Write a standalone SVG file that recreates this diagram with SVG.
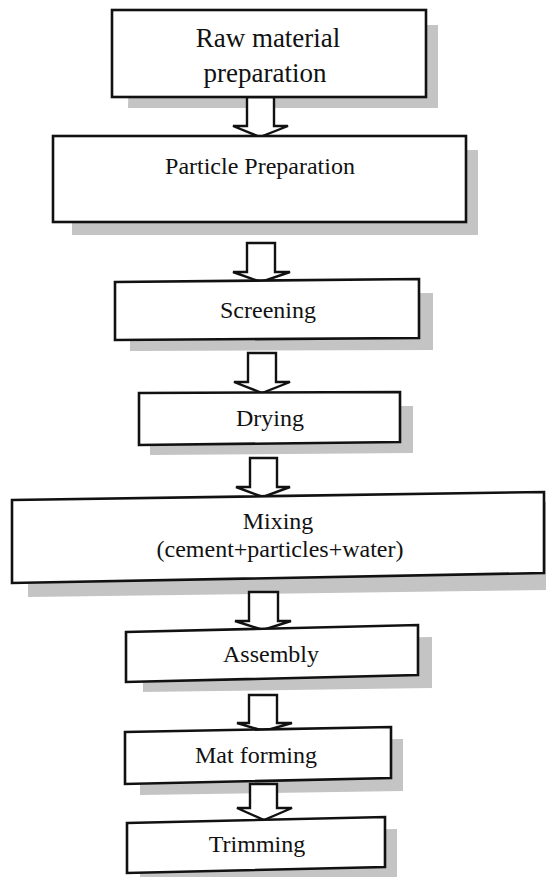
<svg xmlns="http://www.w3.org/2000/svg" width="546" height="877" viewBox="0 0 546 877">
<style>
.bg{fill:#ffffff}
.shadow{fill:#c4c4c4}
.box{fill:#ffffff;stroke:#111111;stroke-width:2.6;stroke-linejoin:miter}
.arrow{fill:#ffffff;stroke:#111111;stroke-width:2.4;stroke-linejoin:miter}
.t{font-family:"Liberation Serif","Times New Roman",serif;font-size:24px;fill:#111111;text-anchor:middle}
.t1{font-size:27px}
</style>
<rect class="bg" x="0" y="0" width="546" height="877"/>
<g id="shadows">
<polygon class="shadow" points="130,25 438,25 438,108 128,108"/>
<polygon class="shadow" points="72,150 478,150 478,235 72,235"/>
<polygon class="shadow" points="130,295 433,293 433,350 130,351"/>
<polygon class="shadow" points="150,407 413,406 413,453 150,455"/>
<polygon class="shadow" points="28,510 546,502 546,590 28,597"/>
<polygon class="shadow" points="143,642 432,637 432,688 143,692"/>
<polygon class="shadow" points="140,743 403,739 403,791 140,795"/>
<polygon class="shadow" points="140,833 397,829 397,877 140,877"/>
</g>
<g id="connectors">
<polygon class="arrow" points="247,97 274,97 274,126 288,126 260,137 233,126 247,126"/>
<polygon class="arrow" points="247,243 275,243 275,272 290,272 261,282 233,272 247,272"/>
<polygon class="arrow" points="248,353 276,353 276,382 290,382 262,393 234,382 248,382"/>
<polygon class="arrow" points="250,458 277,458 277,487 290,487 263,497 236,487 250,487"/>
<polygon class="arrow" points="249,592 278,592 278,621 291,621 263,630 235,621 249,621"/>
<polygon class="arrow" points="249,695 277,695 277,723 292,723 264,731 237,723 249,723"/>
<polygon class="arrow" points="250,784 277,784 277,808 292,808 264,820 237,808 250,808"/>
</g>
<g id="n1">
<rect class="box" x="112" y="10" width="314" height="87"/>
<text class="t t1" x="268" y="47">Raw material</text>
<text class="t t1" x="265" y="82">preparation</text>
</g>
<g id="n2">
<rect class="box" x="53" y="136" width="413" height="86"/>
<text class="t" x="260" y="174">Particle Preparation</text>
</g>
<g id="n3">
<polygon class="box" points="115,282 419,279 419,338 115,340"/>
<text class="t" x="268" y="318">Screening</text>
</g>
<g id="n4">
<polygon class="box" points="139,393 400,392 400,442 139,445"/>
<text class="t" x="270" y="426">Drying</text>
</g>
<g id="n5">
<polygon class="box" points="12,500 544,492 544,573 12,583"/>
<text class="t" x="278" y="529">Mixing</text>
<text class="t" x="280" y="557">(cement+particles+water)</text>
</g>
<g id="n6">
<polygon class="box" points="126,632 418,625 418,675 126,682"/>
<text class="t" x="271" y="662">Assembly</text>
</g>
<g id="n7">
<polygon class="box" points="125,732 391,727 391,778 125,784"/>
<text class="t" x="256" y="763">Mat forming</text>
</g>
<g id="n8">
<polygon class="box" points="127,823 385,817 385,867 127,873"/>
<text class="t" x="257" y="852">Trimming</text>
</g>
</svg>
